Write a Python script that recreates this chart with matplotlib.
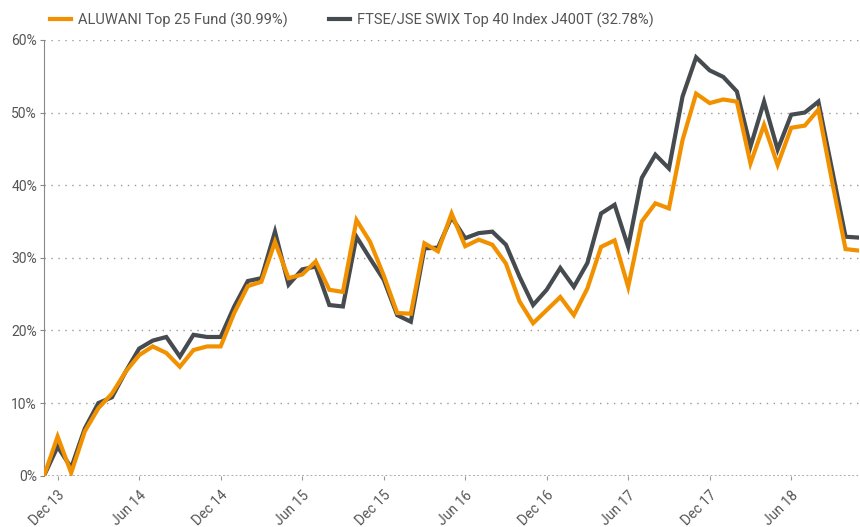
import numpy as np
import matplotlib
matplotlib.use("Agg")
import matplotlib.pyplot as plt

# monthly cumulative returns (%), Nov 13 .. Nov 18
months = ["Nov 13", "Dec 13", "Jan 14", "Feb 14", "Mar 14", "Apr 14", "May 14", "Jun 14",
          "Jul 14", "Aug 14", "Sep 14", "Oct 14", "Nov 14", "Dec 14", "Jan 15", "Feb 15",
          "Mar 15", "Apr 15", "May 15", "Jun 15", "Jul 15", "Aug 15", "Sep 15", "Oct 15",
          "Nov 15", "Dec 15", "Jan 16", "Feb 16", "Mar 16", "Apr 16", "May 16", "Jun 16",
          "Jul 16", "Aug 16", "Sep 16", "Oct 16", "Nov 16", "Dec 16", "Jan 17", "Feb 17",
          "Mar 17", "Apr 17", "May 17", "Jun 17", "Jul 17", "Aug 17", "Sep 17", "Oct 17",
          "Nov 17", "Dec 17", "Jan 18", "Feb 18", "Mar 18", "Apr 18", "May 18", "Jun 18",
          "Jul 18", "Aug 18", "Sep 18", "Oct 18", "Nov 18"]

fund = [0.0, 5.4, 0.4, 6.1, 9.3, 11.3, 14.3, 16.6, 17.8, 16.9,
        15.0, 17.3, 17.8, 17.8, 22.4, 26.1, 26.7, 32.2, 27.2, 27.7,
        29.5, 25.6, 25.3, 35.2, 32.2, 27.6, 22.4, 22.3, 32.0, 30.9,
        36.1, 31.6, 32.5, 31.8, 29.2, 24.0, 21.0, 22.8, 24.6, 22.1,
        25.8, 31.5, 32.4, 26.0, 35.0, 37.5, 36.8, 46.2, 52.6, 51.3,
        51.8, 51.5, 43.0, 48.3, 42.8, 47.9, 48.2, 50.4, 40.6, 31.2, 30.99]

index = [0.0, 4.0, 1.1, 6.5, 10.0, 10.8, 14.3, 17.5, 18.6, 19.1,
         16.4, 19.4, 19.1, 19.1, 23.3, 26.8, 27.2, 33.6, 26.3, 28.4,
         28.8, 23.5, 23.3, 32.9, 29.9, 27.0, 22.1, 21.2, 31.3, 31.4,
         35.6, 32.7, 33.4, 33.6, 31.8, 27.4, 23.5, 25.6, 28.6, 26.0,
         29.3, 36.1, 37.3, 31.5, 41.0, 44.2, 42.3, 52.2, 57.6, 55.8,
         54.9, 52.9, 45.3, 51.5, 44.9, 49.7, 50.0, 51.5, 42.2, 32.9, 32.78]

tick_labels = ["Dec 13", "Jun 14", "Dec 14", "Jun 15", "Dec 15",
               "Jun 16", "Dec 16", "Jun 17", "Dec 17", "Jun 18"]

orange = "#F29100"
dark = "#464B4F"
txt = "#555555"

plt.rcParams['font.family'] = ['Roboto', 'DejaVu Sans']

fig = plt.figure(figsize=(8.6, 5.27), dpi=100)
ax = fig.add_axes([0.0512, 0.0973, 0.9478, 0.827])

x = np.arange(len(months))
ax.plot(x, index, color=dark, lw=3, solid_joinstyle='miter',
        label="FTSE/JSE SWIX Top 40 Index J400T (32.78%)", zorder=3)
ax.plot(x, fund, color=orange, lw=3, solid_joinstyle='miter',
        label="ALUWANI Top 25 Fund (30.99%)", zorder=4)

ax.set_xlim(0, len(months) - 1)
ax.set_ylim(0, 60)

yt = np.arange(0, 61, 10)
ax.set_yticks(yt)
ax.set_yticklabels([f"{v}%" for v in yt])
ax.yaxis.grid(True, color="#999999", linestyle=(0, (1, 4)), lw=1)
ax.set_axisbelow(True)

xt = [months.index(m) for m in tick_labels]
ax.set_xticks(xt)
ax.set_xticklabels(tick_labels, rotation=45, ha='right', va='top',
                   rotation_mode='anchor')

for s in ['top', 'right', 'bottom']:
    ax.spines[s].set_visible(False)
ax.spines['left'].set_color("#888888")
ax.axhline(0, color="#999999", lw=1.2, linestyle=(0, (1, 1.5)), zorder=1)

ax.tick_params(axis='y', colors="#888888", length=3, labelcolor=txt, labelsize=10, pad=2)
ax.tick_params(axis='x', colors="#999999", length=3, labelcolor=txt, labelsize=10, pad=6)

h, l = ax.get_legend_handles_labels()
fig.legend(h[::-1], l[::-1], loc='center left', bbox_to_anchor=(0.058, 0.962),
           ncol=2, frameon=False, fontsize=10.5, labelcolor=txt,
           handlelength=1.45, handletextpad=0.5, columnspacing=2.8,
           borderpad=0, borderaxespad=0)

fig.savefig("out.png", dpi=100)
